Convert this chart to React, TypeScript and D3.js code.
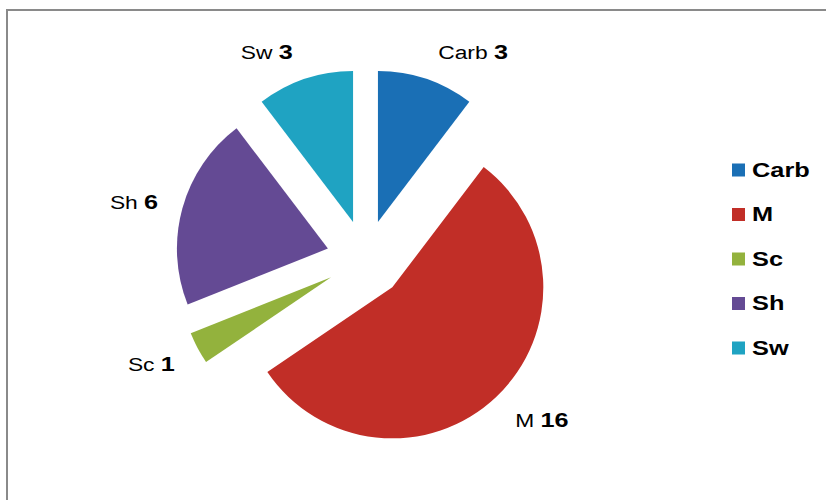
import * as d3 from "d3";
import React from "react";

const categories = ["Carb", "M", "Sc", "Sh", "Sw"];
const values = [3, 16, 1, 6, 3];
const colors = ["#1a6fb5", "#c12e27", "#93b23d", "#644a94", "#1fa3c2"];

const width = 826;
const height = 500;
const cx = 365.5;
const cy = 259;
const radius = 151;
const explode = 39;
const labelRadius = 170;
const font = "'Liberation Sans', Arial, sans-serif";
// reference text is drawn horizontally stretched
const stretch = 1.2;

const App = () => {
    const data = categories.map((c, i) => ({ name: c, value: values[i], color: colors[i] }));

    const pie = d3.pie<any>().sort(null).value(d => d.value);
    const arcs = pie(data);
    const arc = d3.arc<any>().innerRadius(0).outerRadius(radius);

    const legendY = d3.scalePoint<string>().domain(categories).range([170, 348]);

    return (
        <svg width={width} height={height} style={{ position: "absolute", left: 0, top: 0, background: "#fff" }}>
            <rect x={7} y={10} width={840} height={520} fill="#fff" stroke="#8a8a8a" strokeWidth={2} />
            <g transform={`translate(${cx},${cy})`}>
                {arcs.map((a, i) => {
                    const mid = (a.startAngle + a.endAngle) / 2;
                    const dx = Math.sin(mid) * explode;
                    const dy = -Math.cos(mid) * explode;
                    const lx = dx + Math.sin(mid) * labelRadius;
                    const ly = dy - Math.cos(mid) * labelRadius;
                    const right = Math.sin(mid) > 0;
                    const tx = lx + (right ? 6 : -6);
                    const ty = ly - Math.cos(mid) * 11 + 3;
                    return (
                        <g key={i}>
                            <path d={arc(a) as string} fill={a.data.color} transform={`translate(${dx},${dy})`} />
                            <text
                                transform={`translate(${tx},${ty}) scale(${stretch},1)`}
                                dy="0.35em"
                                textAnchor={right ? "start" : "end"}
                                fontFamily={font}
                                fill="#000"
                            >
                                <tspan fontSize={19}>{a.data.name} </tspan>
                                <tspan fontSize={21} fontWeight="bold">{a.data.value}</tspan>
                            </text>
                        </g>
                    );
                })}
            </g>
            {categories.map((c, i) => (
                <g key={c} transform={`translate(732,${legendY(c)})`}>
                    <rect x={0} y={-6.5} width={13} height={13} fill={colors[i]} />
                    <text transform={`translate(20,0) scale(1.3,1)`} dy="0.35em" fontFamily={font} fontSize={19.5} fontWeight="bold" fill="#000">{c}</text>
                </g>
            ))}
        </svg>
    );
};

export default App;
